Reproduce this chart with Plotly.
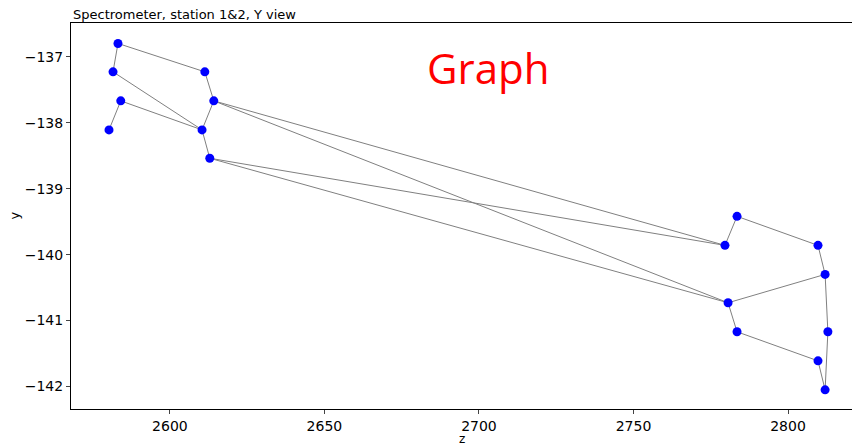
import plotly.graph_objects as go

# Node coordinates (z, y)
names = ["A", "B", "C", "D", "E", "F", "G", "H",
         "I", "J", "K", "L", "M", "N", "O", "P", "Q"]
z_vals = [2583.2, 2611.3, 2581.6, 2614.2, 2584.1, 2610.4, 2580.3, 2612.9,
          2783.5, 2779.6, 2809.7, 2812.0, 2780.6, 2783.5, 2812.9, 2809.7, 2812.0]
y_vals = [-136.80, -137.23, -137.23, -137.67, -137.67, -138.11, -138.11, -138.54,
          -139.42, -139.86, -139.86, -140.30, -140.73, -141.17, -141.17, -141.61, -142.05]
edges = [("A", "B"), ("A", "C"), ("C", "F"), ("E", "G"), ("E", "F"), ("B", "D"),
         ("D", "F"), ("F", "H"), ("D", "J"), ("D", "M"), ("H", "J"), ("H", "M"),
         ("J", "I"), ("I", "K"), ("K", "L"), ("L", "M"), ("M", "N"), ("N", "P"),
         ("P", "Q"), ("Q", "O"), ("O", "L")]
x_ticks = [2600, 2650, 2700, 2750, 2800]
y_ticks = [-137, -138, -139, -140, -141, -142]

idx = {n: i for i, n in enumerate(names)}
ex, ey = [], []
for a, b in edges:
    ex += [z_vals[idx[a]], z_vals[idx[b]], None]
    ey += [y_vals[idx[a]], y_vals[idx[b]], None]

fig = go.Figure()
fig.add_trace(go.Scatter(x=ex, y=ey, mode="lines",
                         line=dict(color="gray", width=1), hoverinfo="skip"))
fig.add_trace(go.Scatter(x=z_vals, y=y_vals, mode="markers",
                         marker=dict(color="#0000ff", size=9), text=names))

font = "DejaVu Sans"
fig.update_layout(
    width=852, height=446,
    margin=dict(l=71, r=0, t=23, b=37),
    paper_bgcolor="white", plot_bgcolor="white",
    showlegend=False,
    font=dict(family=font, color="black"),
    xaxis=dict(range=[2568, 2820.7], tickvals=x_ticks,
               ticktext=[str(v) for v in x_ticks],
               showgrid=False, zeroline=False, showline=True, linecolor="black",
               linewidth=1, mirror=True, ticks="outside", ticklen=4,
               tickfont=dict(size=14, family=font)),
    yaxis=dict(range=[-142.34, -136.49], tickvals=y_ticks,
               ticktext=["\u2212" + str(-v) for v in y_ticks],
               showgrid=False, zeroline=False, showline=True, linecolor="black",
               linewidth=1, mirror=True, ticks="outside", ticklen=4,
               tickfont=dict(size=14, family=font)),
    annotations=[
        dict(text="Spectrometer, station 1&2, Y view", xref="paper", yref="paper",
             x=0, y=1, xanchor="left", yanchor="bottom", showarrow=False,
             font=dict(size=13, family=font, color="black"), yshift=-1),
        dict(text="z", xref="paper", yref="paper", x=0.5, y=0,
             xanchor="center", yanchor="top", showarrow=False, yshift=-21,
             font=dict(size=12, family=font, color="black")),
        dict(text="y", xref="paper", yref="paper", x=0, y=0.5,
             xanchor="right", yanchor="middle", showarrow=False, xshift=-48,
             textangle=-90, font=dict(size=13, family=font, color="black")),
        dict(text="Graph", xref="paper", yref="paper", x=0.535, y=0.885,
             xanchor="center", yanchor="middle", showarrow=False,
             font=dict(size=42, family="Open Sans", color="red")),
    ],
)
fig.write_html("out.html")
